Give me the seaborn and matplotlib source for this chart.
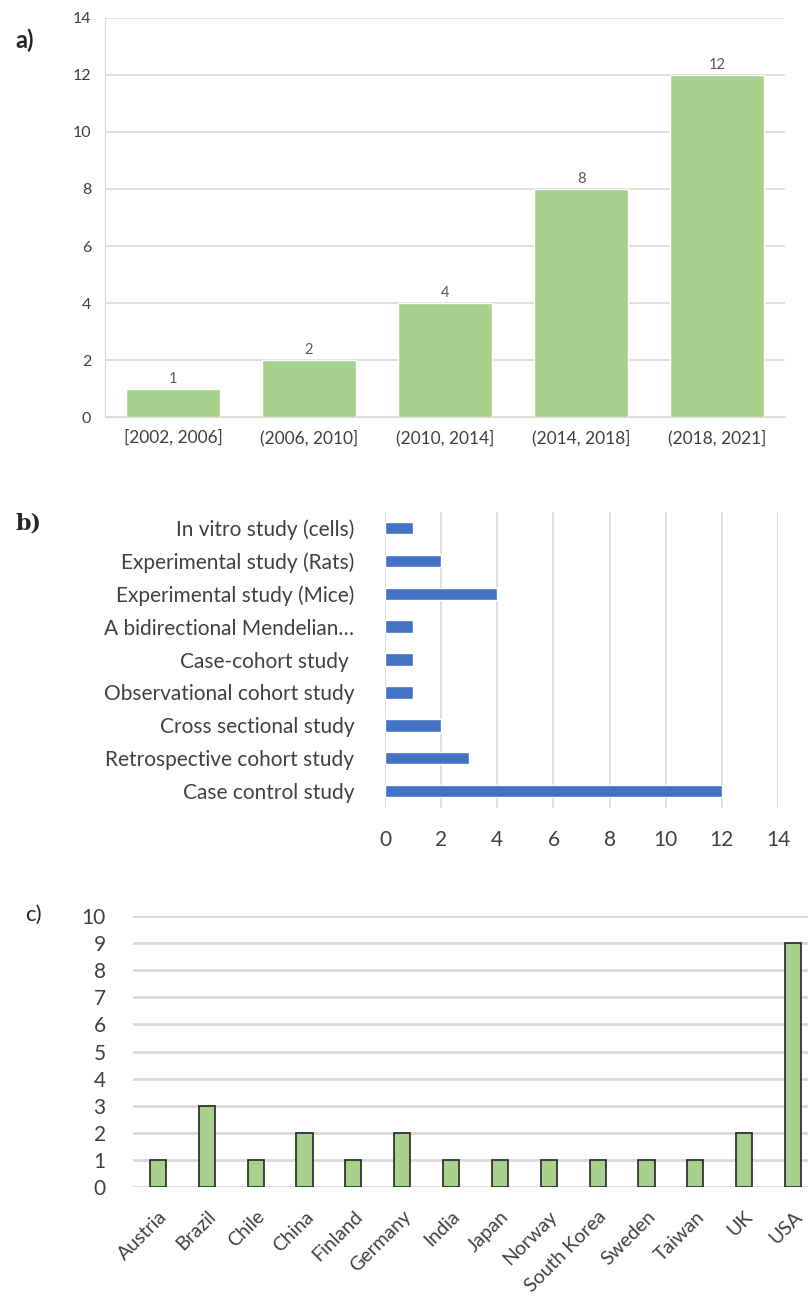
import numpy as np
import pandas as pd
import matplotlib
matplotlib.use("Agg")
import matplotlib.pyplot as plt
import seaborn as sns

# a) publications per period
periods = ["[2002, 2006]", "(2006, 2010]", "(2010, 2014]", "(2014, 2018]", "(2018, 2021]"]
period_counts = [1, 2, 4, 8, 12]

# b) study design
designs = ["In vitro study (cells)", "Experimental study (Rats)", "Experimental study (Mice)",
           "A bidirectional Mendelian\u2026", "Case-cohort study ", "Observational cohort study",
           "Cross sectional study", "Retrospective cohort study", "Case control study"]
design_counts = [1, 2, 4, 1, 1, 1, 2, 3, 12]

# c) country
countries = ["Austria", "Brazil", "Chile", "China", "Finland", "Germany", "India", "Japan",
             "Norway", "South Korea", "Sweden", "Taiwan", "UK", "USA"]
country_counts = [1, 3, 1, 2, 1, 2, 1, 1, 1, 1, 1, 1, 2, 9]

green = "#a9d18e"
blue = "#4472c4"
grid_c = "#d9d9d9"

sns.set_style("white")
plt.rcParams['font.family'] = ['Lato', 'DejaVu Sans']

fig = plt.figure(figsize=(8.08, 13.02), dpi=100)

# ---- a)
ax1 = fig.add_axes([0.1300, 0.6797, 0.8416, 0.3065])
df_a = pd.DataFrame({"period": periods, "n": period_counts})
sns.barplot(data=df_a, x="period", y="n", color=green, width=0.69, saturation=1, ax=ax1)
ax1.bar_label(ax1.containers[0], fontsize=10.5, color="#595959", padding=2)
ax1.set_ylim(0, 14)
ax1.set_xlim(-0.5, 4.5)
ax1.set_yticks(range(0, 15, 2))
ax1.yaxis.grid(True, color=grid_c, lw=1.2)
ax1.set_axisbelow(True)
ax1.set_xlabel("")
ax1.set_ylabel("")
for s in ["top", "right"]:
    ax1.spines[s].set_visible(False)
ax1.spines["left"].set_color(grid_c)
ax1.spines["bottom"].set_color(grid_c)
ax1.tick_params(axis="both", length=0, colors="#404040")
ax1.tick_params(axis="y", pad=10, labelsize=11.5)
ax1.tick_params(axis="x", pad=9, labelsize=12.5)

# ---- b)
ax2 = fig.add_axes([0.4765, 0.3798, 0.4864, 0.2273])
df_b = pd.DataFrame({"design": designs, "n": design_counts})
sns.barplot(data=df_b, y="design", x="n", color=blue, width=0.38, saturation=1, orient="h", ax=ax2)
ax2.set_xlim(0, 14)
ax2.set_ylim(8.5, -0.5)
ax2.set_xticks(range(0, 15, 2))
ax2.xaxis.grid(True, color=grid_c, lw=1.2)
ax2.set_axisbelow(True)
ax2.set_xlabel("")
ax2.set_ylabel("")
for s in ax2.spines.values():
    s.set_visible(False)
ax2.tick_params(axis="both", length=0, colors="#404040", labelsize=15)
ax2.tick_params(axis="y", pad=22)
ax2.tick_params(axis="x", pad=16)

# ---- c)
ax3 = fig.add_axes([0.1652, 0.0883, 0.8465, 0.2081])
df_c = pd.DataFrame({"country": countries, "n": country_counts})
sns.barplot(data=df_c, x="country", y="n", color=green, width=0.33, saturation=1,
            edgecolor="#262626", linewidth=1.2, ax=ax3)
ax3.set_ylim(0, 10)
ax3.set_xlim(-0.5, 13.5)
ax3.set_yticks(range(0, 11))
ax3.yaxis.grid(True, color=grid_c, lw=2)
ax3.set_axisbelow(True)
ax3.set_xlabel("")
ax3.set_ylabel("")
for s in ax3.spines.values():
    s.set_visible(False)
ax3.tick_params(axis="both", length=0, colors="#404040")
ax3.tick_params(axis="y", pad=20, labelsize=15)
ax3.tick_params(axis="x", pad=15, labelsize=14)
for lab in ax3.get_xticklabels():
    lab.set_rotation(45)
    lab.set_ha("right")
    lab.set_rotation_mode("anchor")

# panel letters
fig.text(15 / 808, 1 - 40 / 1302, "a)", fontsize=17, fontweight="bold", color="#262626", va="center")
fig.text(15 / 808, 1 - 523 / 1302, "b)", fontsize=16, fontweight="bold", family="DejaVu Serif",
         color="#262626", va="center")
fig.text(25 / 808, 1 - 915 / 1302, "c)", fontsize=16, color="#262626", va="center")

fig.savefig("out.png", dpi=100)
